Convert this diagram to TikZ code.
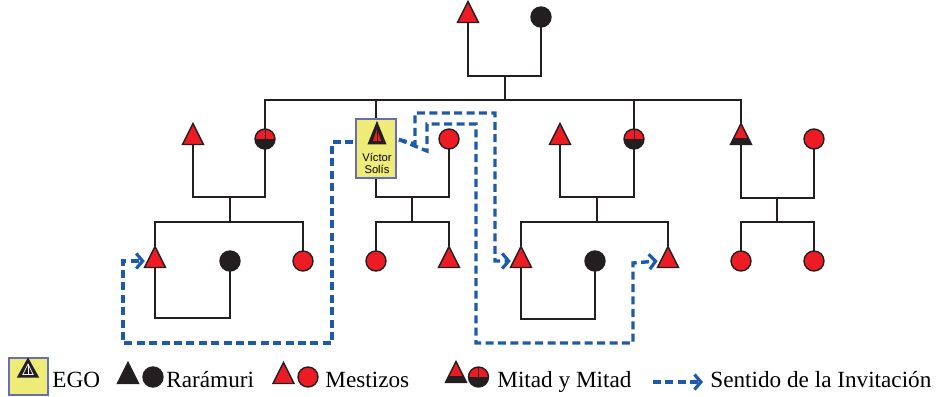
\documentclass[tikz,border=0pt]{standalone}
\usepackage{fontspec}
\setmainfont{Liberation Serif}
\setsansfont{Liberation Sans}
\usetikzlibrary{shapes.geometric,arrows.meta,backgrounds}

\definecolor{symred}{RGB}{237,28,36}
\definecolor{symblack}{RGB}{35,31,32}
\definecolor{invblue}{RGB}{30,90,170}
\definecolor{egofill}{RGB}{238,236,118}
\definecolor{egoline}{RGB}{104,110,182}

\tikzset{
  sym/.style={draw=symblack, line width=0.7pt, inner sep=0pt, outer sep=0pt},
  tri/.style={sym, isosceles triangle, shape border rotate=90,
    isosceles triangle apex angle=55, isosceles triangle stretches,
    minimum width=10.5pt, minimum height=10.5pt},
  circ/.style={sym, circle, minimum size=10pt},
  % Mestizo / Raramuri
  mtri/.style={tri, fill=symred},
  mcirc/.style={circ, fill=symred},
  rtri/.style={tri, fill=symblack},
  rcirc/.style={circ, fill=symblack},
  % mitad y mitad
  halftri/.style={tri, fill=symred, path picture={
      \fill[symblack] (path picture bounding box.south west) rectangle
        ([yshift=3.4pt]path picture bounding box.south east);}},
  halfcirc/.style={circ, fill=symred, path picture={
      \fill[symblack] (path picture bounding box.west) rectangle
        (path picture bounding box.south east);
      \draw[symblack, line width=0.4pt] (path picture bounding box.center) --
        (path picture bounding box.north);}},
  % ego
  egobox/.style={draw=egoline, fill=egofill, line width=1pt,
    minimum width=20pt, minimum height=29.5pt, inner sep=0pt},
  egotri/.style={tri, fill=symblack, minimum width=8.5pt, minimum height=10.5pt,
    path picture={
      \fill[#1] ([yshift=-3pt]path picture bounding box.north) --
        ([xshift=2.2pt,yshift=1.3pt]path picture bounding box.south west) --
        ([xshift=-2.2pt,yshift=1.3pt]path picture bounding box.south east) -- cycle;
      \draw[symblack, line width=0.5pt] (path picture bounding box.north) --
        (path picture bounding box.south);}},
  egotri/.default=symred,
  legego/.style={tri, fill=symblack, minimum width=10pt, minimum height=9pt,
    path picture={
      \draw[white, line width=0.35pt] ([yshift=-2.6pt]path picture bounding box.north) --
        ([xshift=2.4pt,yshift=1.2pt]path picture bounding box.south west) --
        ([xshift=-2.4pt,yshift=1.2pt]path picture bounding box.south east) -- cycle;
      \draw[white, line width=0.35pt] ([yshift=-2.6pt]path picture bounding box.north) --
        ([yshift=1.2pt]path picture bounding box.south);}},
  kin/.style={draw=symblack, line width=1.3pt},
  invite/.style={draw=invblue, line width=1.7pt, dash pattern=on 4pt off 2.2pt,
    -{Straight Barb[length=3.2pt,width=7.5pt,line width=1.6pt]}},
  legtext/.style={anchor=base west, inner sep=0pt, font=\fontsize{11.6}{13}\selectfont}
}

\begin{document}
\begin{tikzpicture}[x=0.5pt, y=-0.5pt]
  \useasboundingbox (0,0) rectangle (939,397);

  % grandparents
  \node[mtri]  (pa) at (468,16) {};
  \node[rcirc] (ma) at (541,17) {};

  % children of the grandparents and their spouses
  \node[mtri]     (a1) at (193,138) {};
  \node[halfcirc] (a2) at (265,139) {};
  \node[egobox]   (ego) at (376,148.5) {};
  \node[egotri]   (egoT) at (377,138) {};
  \node[align=center, inner sep=0pt, font=\sffamily\fontsize{5.6}{6.4}\selectfont]
    (egoN) at (377,163.5) {Víctor\\Solís};
  \node[mcirc]    (b2) at (449,139) {};
  \node[mtri]     (c1) at (560,138) {};
  \node[halfcirc] (c2) at (634,139) {};
  \node[halftri]  (d1) at (741,138) {};
  \node[mcirc]    (d2) at (814,139) {};

  % grandchildren
  \node[mtri]  (k1)  at (155,261) {};
  \node[rcirc] (k2)  at (230,261) {};
  \node[mcirc] (k3)  at (303,261) {};
  \node[mcirc] (k4)  at (376,261) {};
  \node[mtri]  (k5)  at (449,261) {};
  \node[mtri]  (k6)  at (521,261) {};
  \node[rcirc] (k7)  at (595,261) {};
  \node[mtri]  (k8)  at (668,261) {};
  \node[mcirc] (k9)  at (741,261) {};
  \node[mcirc] (k10) at (814,261) {};

  \coordinate (top) at (505,76);
  \coordinate (sib) at (505,100);
  \coordinate (mA) at (230,197);  \coordinate (fA) at (230,222);
  \coordinate (mB) at (412,197);  \coordinate (fB) at (412,222);
  \coordinate (mC) at (597,197);  \coordinate (fC) at (597,222);
  \coordinate (mD) at (777,198);  \coordinate (fD) at (777,222);
  \coordinate (mK1) at (192,318);
  \coordinate (mK6) at (558,319);

  % kinship lines
  \begin{scope}[on background layer]
    \draw[kin] (pa) |- (top) -| (ma);
    \draw[kin] (top) -- (sib);
    \draw[kin] (a2) |- (sib) -| (d1);
    \draw[kin] (ego) -- (ego |- sib);
    \draw[kin] (c2) -- (c2 |- sib);

    \draw[kin] (a1) |- (mA) -| (a2);
    \draw[kin] (mA) -- (fA);
    \draw[kin] (k1) |- (fA) -| (k3);
    \draw[kin] (k1) |- (mK1) -| (k2);

    \draw[kin] (ego) |- (mB) -| (b2);
    \draw[kin] (mB) -- (fB);
    \draw[kin] (k4) |- (fB) -| (k5);

    \draw[kin] (c1) |- (mC) -| (c2);
    \draw[kin] (mC) -- (fC);
    \draw[kin] (k6) |- (fC) -| (k8);
    \draw[kin] (k6) |- (mK6) -| (k7);

    \draw[kin] (d1) |- (mD) -| (d2);
    \draw[kin] (mD) -- (fD);
    \draw[kin] (k9) |- (fD) -| (k10);
  \end{scope}

  % invitations
  \draw[invite] ([xshift=-1pt,yshift=3.2pt]ego.west) -| (332,343) -| (123,261)
    -- ([xshift=-1.5pt]k1.west |- k1);
  \draw[invite] ([xshift=1pt,yshift=4.5pt]ego.east) -- (415,144) -- (415,113)
    -| (495,261) -- ([xshift=-1.5pt]k6.west |- k6);
  \draw[invite] ([xshift=1pt,yshift=4.5pt]ego.east) -- (427,151) -- (427,124)
    -| (476,343) -| (633,263) -- ([xshift=-1.5pt]k8.west |- k8);

  % legend
  \node[egobox, minimum width=19.5pt, minimum height=18.5pt] (legE) at (28.5,376.5) {};
  \node[legego] (legET) at (28,371) {};
  \node[legtext] (legEt) at (52,387) {EGO};

  \node[rtri]  (legR1) at (128,377) {};
  \node[rcirc] (legR2) at (153,377) {};
  \node[legtext] (legRt) at (166,387) {Rarámuri};

  \node[mtri]  (legM1) at (283.5,377) {};
  \node[mcirc] (legM2) at (308,377) {};
  \node[legtext] (legMt) at (325,387) {Mestizos};

  \node[halftri]  (legH1) at (456,376) {};
  \node[halfcirc] (legH2) at (478.5,377) {};
  \node[legtext] (legHt) at (497,387) {Mitad y Mitad};

  \coordinate (legI1) at (653,382);
  \coordinate (legI2) at (703,382);
  \draw[invite] (legI1) -- (legI2);
  \node[legtext] (legIt) at (710,387) {Sentido de la Invitación};
\end{tikzpicture}
\end{document}
